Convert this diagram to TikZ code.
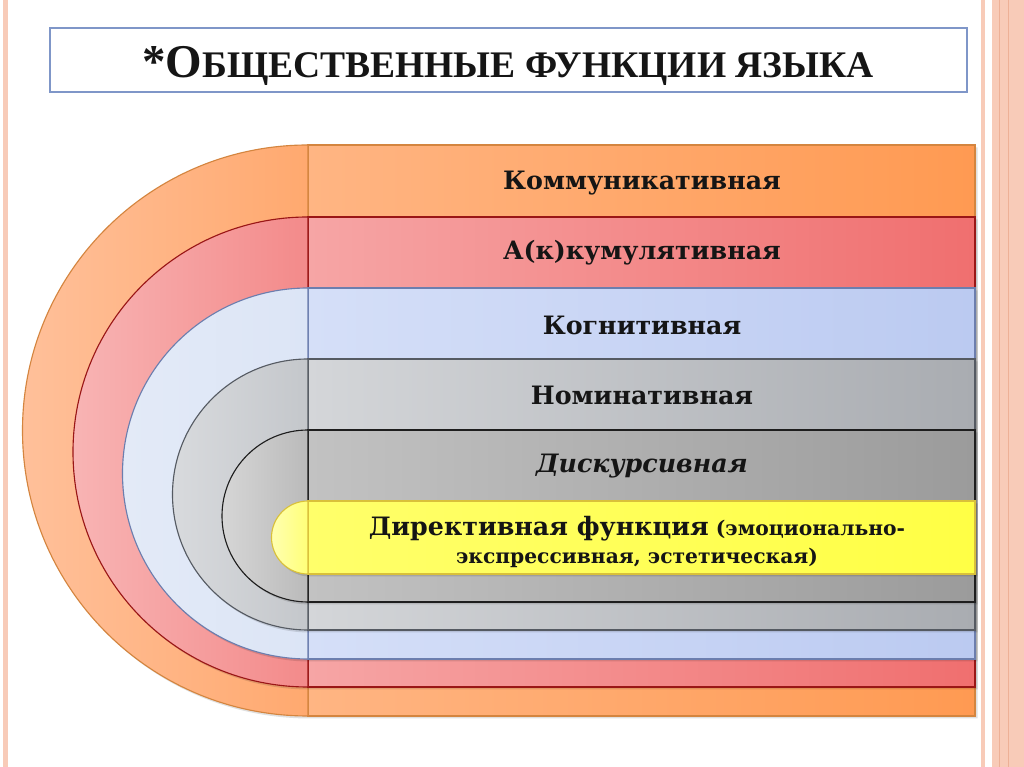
\documentclass[tikz,border=0pt]{standalone}
\usepackage{fontspec}
\setmainfont{Liberation Serif}
\newfontfamily\labelfont{DejaVu Serif}
\usetikzlibrary{positioning}
\definecolor{stripe}{HTML}{F8CBB8}
\definecolor{stripedark}{HTML}{EDB096}
\definecolor{titleblue}{HTML}{7F96C8}
\definecolor{inktext}{HTML}{151515}
% band colours: arc light, arc dark, rect left, rect right, border
\definecolor{orA}{HTML}{FFC09A}\definecolor{orB}{HTML}{FFA96F}
\definecolor{orL}{HTML}{FFB583}\definecolor{orR}{HTML}{FF9A52}\definecolor{orD}{HTML}{D4853F}
\definecolor{reA}{HTML}{F8B4B4}\definecolor{reB}{HTML}{F38A8A}
\definecolor{reL}{HTML}{F6A5A5}\definecolor{reR}{HTML}{F06F6F}\definecolor{reD}{HTML}{9A1616}
\definecolor{blA}{HTML}{E3EAF7}\definecolor{blB}{HTML}{DCE5F6}
\definecolor{blL}{HTML}{D5DFF8}\definecolor{blR}{HTML}{BBCAF1}\definecolor{blD}{HTML}{6C7EAE}
\definecolor{grA}{HTML}{D8DADD}\definecolor{grB}{HTML}{C4C7CB}
\definecolor{grL}{HTML}{D4D6D9}\definecolor{grR}{HTML}{A9ACB1}\definecolor{grD}{HTML}{555A62}
\definecolor{dkA}{HTML}{D6D6D6}\definecolor{dkB}{HTML}{BABABA}
\definecolor{dkL}{HTML}{C2C2C2}\definecolor{dkR}{HTML}{9B9B9B}\definecolor{dkD}{HTML}{1E1E1E}
\definecolor{yeA}{HTML}{FFFFB0}\definecolor{yeB}{HTML}{FFFF78}
\definecolor{yeL}{HTML}{FFFF6A}\definecolor{yeR}{HTML}{FFFF45}\definecolor{yeD}{HTML}{D9C03A}

\begin{document}
\begin{tikzpicture}[x=0.025cm, y=0.025cm,
    bandlabel/.style={font=\labelfont\bfseries\fontsize{18}{21}\selectfont, text=inktext},
    titlebox/.style={draw=titleblue, line width=1.6pt, fill=white,
        minimum width=22.925cm, minimum height=1.6cm, inner sep=0pt}]
    % Page and side stripes
    \fill[white] (0,0) rectangle (1024,767);
    \useasboundingbox (0,0) rectangle (1024,767);
    \fill[stripe] (3,0) rectangle (8,767);
    \fill[stripe] (981,0) rectangle (985,767);
    \fill[stripe] (992,0) rectangle (1024,767);
    \draw[stripedark, line width=0.6pt] (999,0) -- (999,767);
    \draw[stripedark, line width=0.6pt] (1008,0) -- (1008,767);
    % Title
    \node[titlebox] (title) at (508.5,707) {};
    \node[font=\bfseries, text=inktext, inner sep=0pt] (titletext) at (508,701) {\fontsize{33.4}{36}\selectfont
        *О{\fontsize{26.7}{30}\selectfont БЩЕСТВЕННЫЕ ФУНКЦИИ ЯЗЫКА}};
    % Nested bands, outermost first
    \foreach \t/\b/\c in {622/51/or, 550/80/re, 479/108/bl, 408/137/gr, 337/165/dk, 266/193/ye} {
        \pgfmathsetmacro\r{(\t-\b)/2}
        \fill[black, opacity=0.12] (310,\t-2.5) arc[start angle=90, end angle=270, radius=\r] -- (977.5,\b-2.5) -- (977.5,\t-2.5) -- cycle;
        \draw[draw=\c D, line width=0.8pt, left color=\c L, right color=\c R] (308,\b) rectangle (975,\t);
        \draw[draw=\c D, line width=0.8pt, left color=\c A, right color=\c B] (308,\t) arc[start angle=90, end angle=270, radius=\r] -- cycle;
    }
    % Labels
    \node[bandlabel] (komm) at (642,584) {Коммуникативная};
    \node[bandlabel] (akk) at (642,514) {А(к)кумулятивная};
    \node[bandlabel] (kogn) at (642,442) {Когнитивная};
    \node[bandlabel] (nomin) at (642,372) {Номинативная};
    \node[bandlabel, font=\labelfont\bfseries\itshape\fontsize{18}{21}\selectfont] (disk) at (642,301) {Дискурсивная};
    \node[bandlabel, align=center, font=\labelfont\bfseries\fontsize{14.4}{20}\selectfont] (direk) at (637,225)
        {{\fontsize{18}{20}\selectfont Директивная функция} (эмоционально-\\экспрессивная, эстетическая)};
\end{tikzpicture}
\end{document}
